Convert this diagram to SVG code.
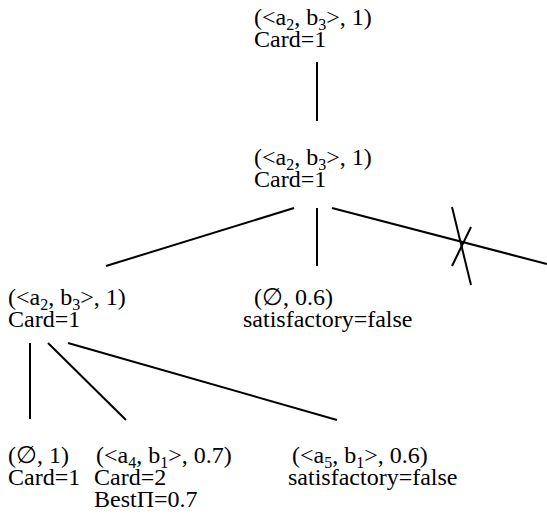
<svg xmlns="http://www.w3.org/2000/svg" width="547" height="518" viewBox="0 0 547 518">
<style>
text{font-family:"Liberation Serif","Times New Roman",serif;font-size:24px;fill:#000}
.s{font-size:16px}
line{stroke:#000;stroke-width:2;fill:none}
</style>
<rect width="547" height="518" fill="#fff"/>
<g id="connectors">
<line x1="317" y1="62" x2="317" y2="121"/>
<line x1="294" y1="208" x2="106" y2="266"/>
<line x1="317" y1="208" x2="317" y2="266"/>
<line x1="332" y1="208" x2="547" y2="264"/>
<line x1="452" y1="207" x2="471" y2="285"/>
<line x1="471" y1="227" x2="452" y2="266"/>
<line x1="30" y1="343" x2="30" y2="419"/>
<line x1="48" y1="343" x2="126" y2="420"/>
<line x1="68" y1="343" x2="337" y2="420"/>
</g>
<g id="n1">
<text x="254" y="25">(&lt;a<tspan class="s" dy="5">2</tspan><tspan dy="-5">, b</tspan><tspan class="s" dy="5">3</tspan><tspan dy="-5">&gt;, 1)</tspan></text>
<text x="254" y="47">Card=1</text>
</g>
<g id="n2">
<text x="254" y="165">(&lt;a<tspan class="s" dy="5">2</tspan><tspan dy="-5">, b</tspan><tspan class="s" dy="5">3</tspan><tspan dy="-5">&gt;, 1)</tspan></text>
<text x="254" y="187">Card=1</text>
</g>
<g id="n3">
<text x="8" y="305">(&lt;a<tspan class="s" dy="5">2</tspan><tspan dy="-5">, b</tspan><tspan class="s" dy="5">3</tspan><tspan dy="-5">&gt;, 1)</tspan></text>
<text x="8" y="327">Card=1</text>
</g>
<g id="n4">
<text x="254" y="305">(∅, 0.6)</text>
<text x="243" y="327">satisfactory=false</text>
</g>
<g id="n5">
<text x="8" y="463">(∅, 1)</text>
<text x="8" y="485">Card=1</text>
</g>
<g id="n6">
<text x="96" y="463">(&lt;a<tspan class="s" dy="5">4</tspan><tspan dy="-5">, b</tspan><tspan class="s" dy="5">1</tspan><tspan dy="-5">&gt;, 0.7)</tspan></text>
<text x="94" y="485">Card=2</text>
<text x="94" y="507">BestΠ=0.7</text>
</g>
<g id="n7">
<text x="292" y="463">(&lt;a<tspan class="s" dy="5">5</tspan><tspan dy="-5">, b</tspan><tspan class="s" dy="5">1</tspan><tspan dy="-5">&gt;, 0.6)</tspan></text>
<text x="288" y="485">satisfactory=false</text>
</g>
</svg>
